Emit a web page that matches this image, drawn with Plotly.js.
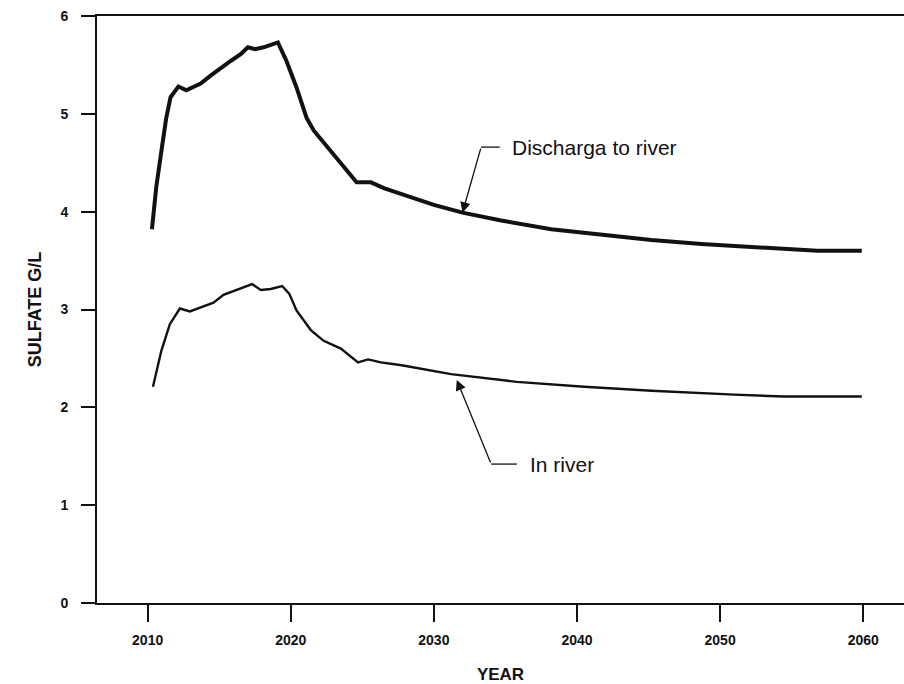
<!DOCTYPE html>
<html>
<head>
<meta charset="utf-8">
<script src="https://cdn.plot.ly/plotly-3.0.1.min.js"></script>
<style>html,body{margin:0;padding:0;background:#fff;}#chart{width:904px;height:684px;}</style>
</head>
<body>
<div id="chart"></div>
<script>
// Discharge to river (sulfate g/L)
const dischargeYears = [2010.3, 2010.6, 2011.0, 2011.3, 2011.6, 2012.15, 2012.7, 2013.7, 2014.4, 2015.1, 2015.8, 2016.5, 2017.0, 2017.5, 2018.1, 2019.1, 2019.7, 2020.4, 2021.1, 2021.6, 2022.8, 2023.6, 2024.6, 2025.6, 2026.5, 2027.75, 2030.0, 2032.0, 2034.7, 2038.2, 2041.7, 2045.2, 2048.7, 2053.3, 2056.8, 2059.9];
const dischargeValues = [3.82, 4.25, 4.66, 4.96, 5.17, 5.28, 5.24, 5.31, 5.39, 5.47, 5.54, 5.61, 5.68, 5.66, 5.68, 5.73, 5.54, 5.27, 4.96, 4.83, 4.62, 4.48, 4.30, 4.30, 4.24, 4.18, 4.07, 3.99, 3.91, 3.82, 3.76, 3.71, 3.67, 3.63, 3.60, 3.60];

// In river (sulfate g/L)
const riverYears = [2010.37, 2010.96, 2011.55, 2012.25, 2012.95, 2013.65, 2014.6, 2015.3, 2016.2, 2017.3, 2017.9, 2018.6, 2019.4, 2019.9, 2020.4, 2021.4, 2022.3, 2023.5, 2024.7, 2025.4, 2026.3, 2027.75, 2031.2, 2035.8, 2040.5, 2045.2, 2051.0, 2054.5, 2059.9];
const riverValues = [2.21, 2.58, 2.85, 3.01, 2.98, 3.02, 3.07, 3.15, 3.20, 3.26, 3.20, 3.21, 3.24, 3.16, 2.99, 2.79, 2.68, 2.60, 2.46, 2.49, 2.46, 2.43, 2.34, 2.26, 2.21, 2.17, 2.13, 2.11, 2.11];

const xTicks = [2010, 2020, 2030, 2040, 2050, 2060];
const yTicks = [0, 1, 2, 3, 4, 5, 6];
const labelDischarge = 'Discharga to river';
const labelRiver = 'In river';
const xTitle = 'YEAR';
const yTitle = 'SULFATE G/L';

const traces = [
  {x: dischargeYears, y: dischargeValues, mode: 'lines', type: 'scatter',
   line: {color: '#111', width: 4}, hoverinfo: 'skip', showlegend: false},
  {x: riverYears, y: riverValues, mode: 'lines', type: 'scatter',
   line: {color: '#111', width: 2.4}, hoverinfo: 'skip', showlegend: false}
];

const fontFam = '"Liberation Sans", Arial, sans-serif';

const layout = {
  width: 904, height: 684,
  margin: {l: 97, r: 0, t: 16, b: 81, pad: 0},
  paper_bgcolor: '#fff', plot_bgcolor: '#fff',
  showlegend: false,
  xaxis: {
    range: [2006.46, 2062.85], tickvals: xTicks, ticktext: xTicks.map(String),
    showgrid: false, zeroline: false, showline: true, mirror: true,
    linecolor: '#111', linewidth: 2,
    ticks: 'outside', ticklen: 17, tickwidth: 2, tickcolor: '#111',
    ticklabelstandoff: 6,
    tickfont: {family: fontFam, size: 14, color: '#111', weight: 'bold'},
    title: {text: xTitle, standoff: 22, font: {family: fontFam, size: 17, color: '#111', weight: 'bold'}},
    fixedrange: true
  },
  yaxis: {
    range: [0, 6], tickvals: yTicks, ticktext: yTicks.map(String),
    showgrid: false, zeroline: false, showline: true, mirror: false,
    linecolor: '#111', linewidth: 2,
    ticks: 'outside', ticklen: 14, tickwidth: 2, tickcolor: '#111',
    ticklabelstandoff: 10,
    tickfont: {family: fontFam, size: 14, color: '#111', weight: 'bold'},
    title: {text: yTitle, standoff: 14, font: {family: fontFam, size: 18, color: '#111', weight: 'bold'}},
    fixedrange: true
  },
  shapes: [
    {type: 'line', xref: 'x', yref: 'y', x0: 2033.3, y0: 4.66, x1: 2034.6, y1: 4.66, line: {color: '#111', width: 1.3}},
    {type: 'line', xref: 'x', yref: 'y', x0: 2034.0, y0: 1.42, x1: 2035.8, y1: 1.42, line: {color: '#111', width: 1.3}}
  ],
  annotations: [
    {x: 2032.0, y: 3.99, ax: 2033.3, ay: 4.66, axref: 'x', ayref: 'y', xref: 'x', yref: 'y',
     text: '', showarrow: true, arrowhead: 2, arrowsize: 1.6, arrowwidth: 1.3, arrowcolor: '#111', standoff: 0},
    {x: 2031.6, y: 2.28, ax: 2034.0, ay: 1.42, axref: 'x', ayref: 'y', xref: 'x', yref: 'y',
     text: '', showarrow: true, arrowhead: 2, arrowsize: 1.6, arrowwidth: 1.3, arrowcolor: '#111', standoff: 0},
    {x: 2035.3, y: 4.66, xref: 'x', yref: 'y', text: labelDischarge, showarrow: false,
     xanchor: 'left', yanchor: 'middle', font: {family: fontFam, size: 21, color: '#111'}},
    {x: 2036.6, y: 1.42, xref: 'x', yref: 'y', text: labelRiver, showarrow: false,
     xanchor: 'left', yanchor: 'middle', font: {family: fontFam, size: 21, color: '#111'}}
  ]
};

Plotly.newPlot('chart', traces, layout, {staticPlot: true, displayModeBar: false});
</script>
</body>
</html>
